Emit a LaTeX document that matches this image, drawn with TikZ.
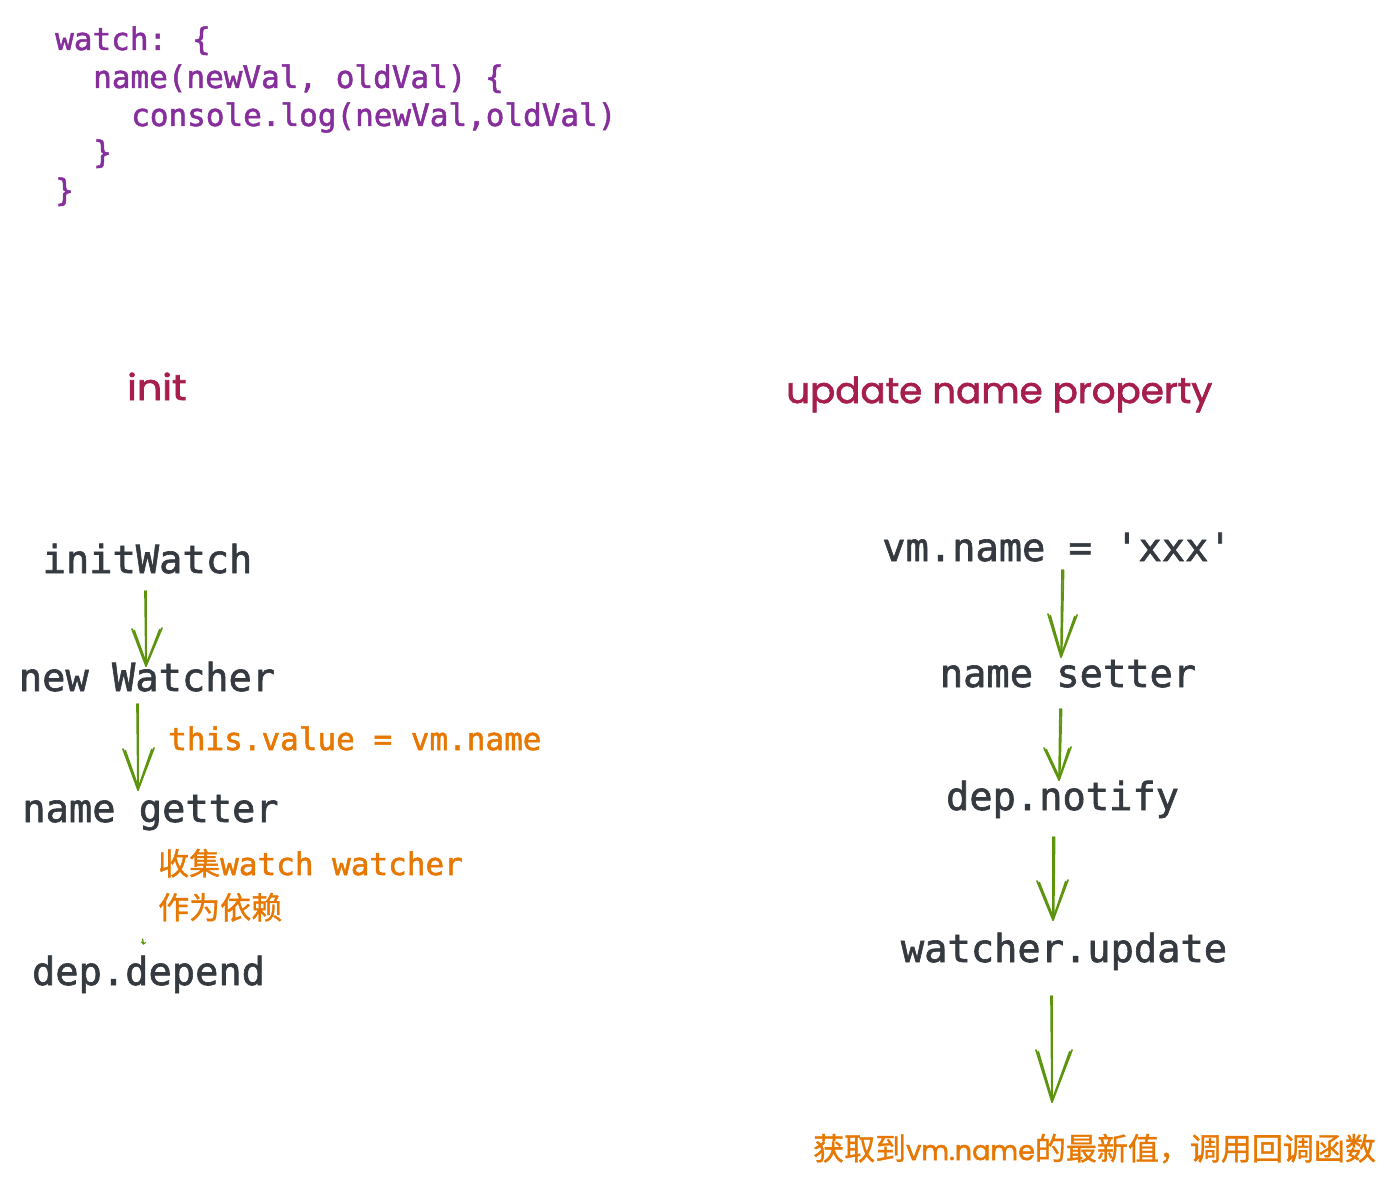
\documentclass[tikz,border=0pt]{standalone}
\usepackage{fontspec}
\usetikzlibrary{calc}
\newfontfamily\codefont{DejaVu Sans Mono}[FakeBold=1.6]
\newfontfamily\cjk{Noto Sans CJK SC}[FakeBold=1]
\newfontfamily\handfont{Poppins}[FakeBold=1.8]
\definecolor{codepurple}{HTML}{862E9C}
\definecolor{darktext}{HTML}{343A40}
\definecolor{orangetext}{HTML}{E67700}
\definecolor{sketchgreen}{HTML}{5C940D}
\definecolor{handred}{HTML}{A61E4D}
\tikzset{
  codeline/.style={anchor=base west, inner sep=0pt, text=codepurple, font=\codefont\fontsize{31}{37}\selectfont},
  steptext/.style={anchor=base, inner sep=0pt, text=darktext, font=\codefont\fontsize{38.7}{46}\selectfont},
  notetext/.style={anchor=base west, inner sep=0pt, text=orangetext, font=\codefont\fontsize{31}{37}\selectfont},
  handtext/.style={anchor=base west, inner sep=0pt, text=handred, font=\handfont\fontsize{36}{42}\selectfont},
  sk/.style={draw=sketchgreen, line width=1.7pt, line cap=round, line join=round},
}
\newcommand\sarrow[4]{%
  \draw[sk] (#1) -- (#2);
  \draw[sk] ($(#1)+(1.6,0)$) -- ($(#2)+(0.6,-1)$);
  \draw[sk] (#3) -- (#2) -- (#4);
  \draw[sk] ($(#3)+(2.2,1.5)$) -- ($(#2)+(0.4,-2)$) -- ($(#4)+(-2.2,1.5)$);
}
\begin{document}
\begin{tikzpicture}[x=1pt,y=-1pt]
\useasboundingbox[fill=white] (0,0) rectangle (1400,1193);

% code block
\node[codeline] (c1) at (55,50) {watch: \{};
\node[codeline] (c2) at (93,88) {name(newVal, oldVal) \{};
\node[codeline] (c3) at (131,126) {console.log(newVal,oldVal)};
\node[codeline] (c4) at (93,163) {\}};
\node[codeline] (c5) at (55,201) {\}};

% headings
\node[handtext] (hinit) at (127,400) {\scalebox{1.1}[1]{init}};
\node[handtext] (hupd) at (786,403) {\scalebox{1.035}[1]{update name property}};

% left column
\node[steptext] (iw) at (147.5,573) {initWatch};
\node[steptext] (nw) at (147,691) {new Watcher};
\node[steptext] (ng) at (150.5,822) {name getter};
\node[steptext] (dd) at (148.5,985) {dep.depend};

\node[notetext] (tv) at (168,750) {this.value = vm.name};
\node[notetext] (cw) at (158,875) {{\cjk 收集}watch watcher};
\node[notetext] (yl) at (158,919) {{\cjk 作为依赖}};

% right column
\node[steptext] (vm) at (1057,561) {vm.name = 'xxx'};
\node[steptext] (ns) at (1068,687) {name setter};
\node[steptext] (dn) at (1062.5,810) {dep.notify};
\node[steptext] (wu) at (1064,962) {watcher.update};

\node[anchor=base west, inner sep=0pt, text=orangetext, font=\cjk\fontsize{31}{37}\selectfont] (res) at (813,1160)
  {获取到{\handfont\fontsize{27}{32}\selectfont vm.name}的最新值，调用回调函数};

% arrows
\coordinate (a1s) at (145,591); \coordinate (a1t) at (146,666);
\coordinate (a1l) at (132,629); \coordinate (a1r) at (162,628);
\sarrow{a1s}{a1t}{a1l}{a1r}

\coordinate (a2s) at (137,704); \coordinate (a2t) at (138,790);
\coordinate (a2l) at (123,749); \coordinate (a2r) at (154,748);
\sarrow{a2s}{a2t}{a2l}{a2r}

\coordinate (a3s) at (142.5,939); \coordinate (a3t) at (143.5,944);
\draw[sk, line width=1.3pt] (a3s) -- (a3t);
\draw[sk, line width=1.1pt] ($(a3t)+(-2,-2)$) -- (a3t) -- ($(a3t)+(2,-1.5)$);

\coordinate (a4s) at (1062,570); \coordinate (a4t) at (1061,657);
\coordinate (a4l) at (1048,614); \coordinate (a4r) at (1077,615);
\sarrow{a4s}{a4t}{a4l}{a4r}

\coordinate (a5s) at (1060,709); \coordinate (a5t) at (1059,780);
\coordinate (a5l) at (1044,748); \coordinate (a5r) at (1071,747);
\sarrow{a5s}{a5t}{a5l}{a5r}

\coordinate (a6s) at (1053,837); \coordinate (a6t) at (1053,920);
\coordinate (a6l) at (1037,881); \coordinate (a6r) at (1068,880);
\sarrow{a6s}{a6t}{a6l}{a6r}

\coordinate (a7s) at (1051,996); \coordinate (a7t) at (1052,1102);
\coordinate (a7l) at (1036,1050); \coordinate (a7r) at (1072,1050);
\sarrow{a7s}{a7t}{a7l}{a7r}
\end{tikzpicture}
\end{document}
